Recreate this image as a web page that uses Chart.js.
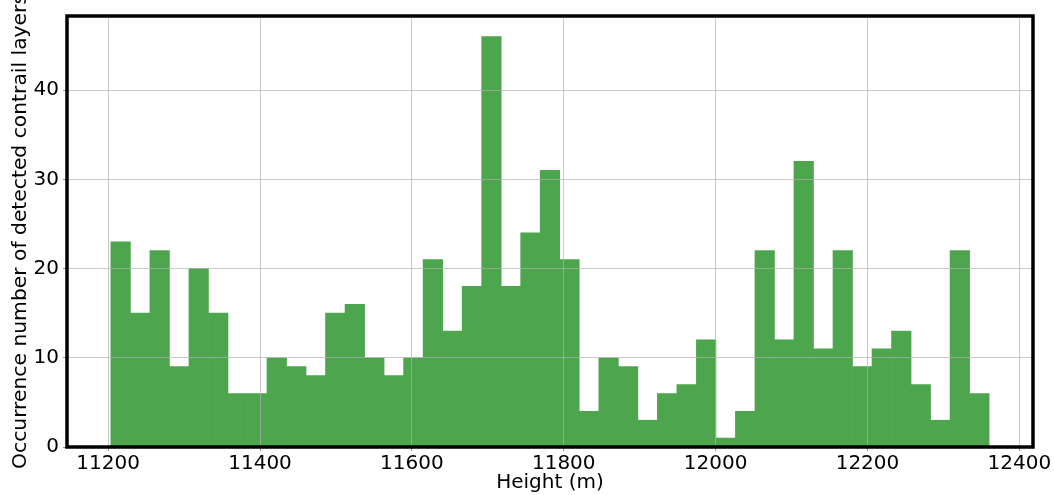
<!DOCTYPE html>
<html>
<head>
<meta charset="utf-8">
<script src="https://cdn.jsdelivr.net/npm/chart.js@4.4.1/dist/chart.umd.min.js"></script>
<style>
  html, body { margin: 0; padding: 0; background: #ffffff; }
  #wrap { width: 1054px; height: 495px; position: relative; }
</style>
</head>
<body>
<div id="wrap"><canvas id="hist"></canvas></div>
<script>
// Histogram bin edges (m) and counts per bin
const binEdges = [
  11203.6, 11229.3, 11255.0, 11280.7, 11306.4, 11332.1, 11357.8, 11383.5, 11409.2, 11434.9,
  11460.6, 11486.3, 11512.0, 11537.7, 11563.4, 11589.1, 11614.8, 11640.5, 11666.2, 11691.9,
  11717.6, 11743.3, 11769.0, 11794.7, 11820.4, 11846.2, 11871.9, 11897.6, 11923.3, 11949.0,
  11974.7, 12000.4, 12026.1, 12051.8, 12077.5, 12103.2, 12128.9, 12154.6, 12180.3, 12206.0,
  12231.7, 12257.4, 12283.1, 12308.8, 12334.5, 12360.2
];
const counts = [
  23, 15, 22, 9, 20, 15, 6, 6, 10, 9,
  8, 15, 16, 10, 8, 10, 21, 13, 18, 46,
  18, 24, 31, 21, 4, 10, 9, 3, 6, 7,
  12, 1, 4, 22, 12, 32, 11, 22, 9, 11,
  13, 7, 3, 22, 6
];
const xTicks = [11200, 11400, 11600, 11800, 12000, 12200, 12400];
const yTicks = [0, 10, 20, 30, 40];

const xLabel = 'Height (m)';
const yLabel = 'Occurrence number of detected contrail layers';

const points = counts.map((c, i) => ({ x: (binEdges[i] + binEdges[i + 1]) / 2, y: c }));

const FONT = { family: 'DejaVu Sans', size: 20 };
const YTITLE_FONT = { family: 'DejaVu Sans', size: 20.3 };

// Thick black frame around the plotting area
const framePlugin = {
  id: 'frame',
  afterDraw(chart) {
    const { ctx, chartArea: a } = chart;
    ctx.save();
    ctx.strokeStyle = '#000';
    ctx.lineWidth = 3.5;
    ctx.strokeRect(a.left, a.top, a.right - a.left, a.bottom - a.top);
    ctx.restore();
  }
};

const gridStyle = {
  color: 'rgba(176,176,176,0.85)', lineWidth: 0.8, z: 1, offset: false,
  tickLength: 4, tickColor: '#777', tickWidth: 0.8
};

new Chart(document.getElementById('hist'), {
  type: 'bar',
  data: {
    datasets: [{
      data: points,
      backgroundColor: 'rgb(77,166,77)',
      borderWidth: 0,
      barPercentage: 1.0,
      categoryPercentage: 1.0
    }]
  },
  options: {
    responsive: true,
    maintainAspectRatio: false,
    animation: false,
    layout: { padding: { top: 15, right: 21, left: 0, bottom: 0 } },
    plugins: { legend: { display: false }, tooltip: { enabled: false } },
    scales: {
      x: {
        type: 'linear',
        offset: false,
        min: 11145.8,
        max: 12418,
        afterBuildTicks(scale) { scale.ticks = xTicks.map(v => ({ value: v })); },
        afterFit(scale) { scale.height = 48; },
        ticks: { font: FONT, color: '#000', padding: 1, maxRotation: 0, autoSkip: false,
                 callback: v => String(v) },
        grid: gridStyle,
        border: { display: false },
        title: { display: true, text: xLabel, font: FONT, color: '#000', padding: { top: 0, bottom: 0 } }
      },
      y: {
        min: 0,
        max: 48.3,
        afterBuildTicks(scale) { scale.ticks = yTicks.map(v => ({ value: v })); },
        afterFit(scale) { scale.width = 67; },
        ticks: { font: FONT, color: '#000', padding: 4, callback: v => String(v) },
        grid: gridStyle,
        border: { display: false },
        title: { display: true, text: yLabel, font: YTITLE_FONT, color: '#000', padding: { top: 9, bottom: 0 } }
      }
    }
  },
  plugins: [framePlugin]
});
</script>
</body>
</html>
